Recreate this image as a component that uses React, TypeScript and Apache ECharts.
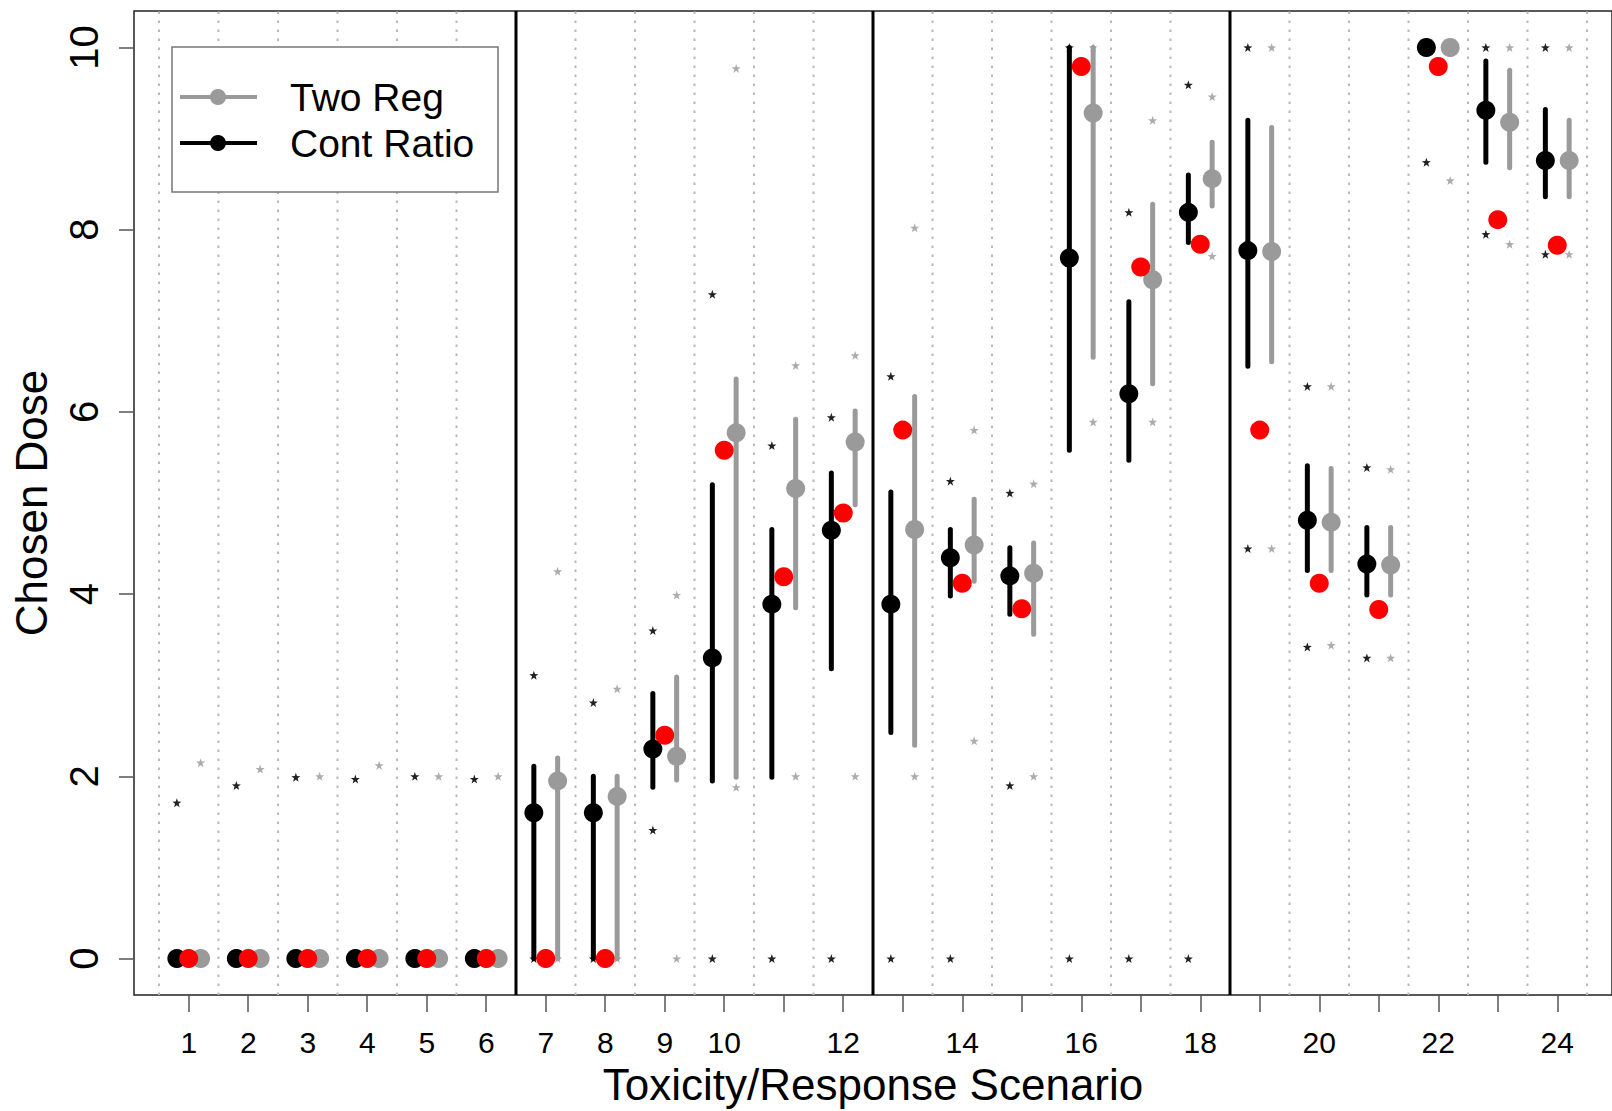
import React, { useEffect, useRef } from "react";
import * as echarts from "echarts";

const scenarios = [1, 2, 3, 4, 5, 6, 7, 8, 9, 10, 11, 12, 13, 14, 15, 16, 17, 18, 19, 20, 21, 22, 23, 24];
const contRatioMean = [0, 0, 0, 0, 0, 0, 1.6, 1.6, 2.3, 3.3, 3.89, 4.7, 3.89, 4.4, 4.2, 7.69, 6.2, 8.19, 7.77, 4.81, 4.33, 10, 9.31, 8.76];
const contRatioLow = [null, null, null, null, null, null, 0, 0, 1.88, 1.95, 1.99, 3.18, 2.48, 3.98, 3.78, 5.58, 5.47, 7.86, 6.5, 4.26, 3.99, null, 8.74, 8.36];
const contRatioHigh = [null, null, null, null, null, null, 2.11, 2.0, 2.91, 5.2, 4.71, 5.33, 5.12, 4.71, 4.51, 10.0, 7.21, 8.6, 9.2, 5.41, 4.73, null, 9.85, 9.32];
const twoRegMean = [0, 0, 0, 0, 0, 0, 1.95, 1.78, 2.22, 5.77, 5.16, 5.67, 4.71, 4.54, 4.23, 9.28, 7.45, 8.56, 7.76, 4.79, 4.32, 10, 9.18, 8.76];
const twoRegLow = [null, null, null, null, null, null, 0, 0, 1.96, 1.99, 3.85, 4.98, 2.34, 4.14, 3.56, 6.6, 6.31, 8.26, 6.55, 4.26, 3.99, null, 8.68, 8.36];
const twoRegHigh = [null, null, null, null, null, null, 2.2, 2.0, 3.09, 6.36, 5.92, 6.01, 6.17, 5.04, 4.56, 10.0, 8.28, 8.96, 9.12, 5.38, 4.73, null, 9.75, 9.2];
const trueDose = [0, 0, 0, 0, 0, 0, 0, 0, 2.45, 5.58, 4.19, 4.89, 5.8, 4.12, 3.84, 9.79, 7.59, 7.84, 5.8, 4.12, 3.83, 9.79, 8.11, 7.83];
const contRatioStarHigh = [1.71, 1.9, 1.99, 1.97, 2.0, 1.97, 3.11, 2.81, 3.6, 7.29, 5.63, 5.94, 6.39, 5.24, 5.11, 10, 8.19, 9.59, 10, 6.28, 5.39, 10, 10, 10];
const contRatioStarLow = [0, 0, 0, 0, 0, 0, 0, 0, 1.41, 0, 0, 0, 0, 0, 1.9, 0, 0, 0, 4.5, 3.42, 3.3, 8.74, 7.95, 7.73];
const twoRegStarHigh = [2.15, 2.08, 2.0, 2.12, 2.0, 2.0, 4.25, 2.96, 3.99, 9.77, 6.51, 6.62, 8.02, 5.8, 5.21, 10, 9.2, 9.46, 10, 6.28, 5.37, 10, 10, 10];
const twoRegStarLow = [0, 0, 0, 0, 0, 0, 0, 0, 0, 1.88, 2.0, 2.0, 2.0, 2.39, 2.0, 5.89, 5.89, 7.71, 4.5, 3.44, 3.3, 8.54, 7.84, 7.73];
const xTickLabels = [1, 2, 3, 4, 5, 6, 7, 8, 9, 10, 12, 14, 16, 18, 20, 22, 24];
const yTickLabels = [0, 2, 4, 6, 8, 10];
const groupBreaks = [6.5, 12.5, 18.5];
const legendNames = ["Two Reg", "Cont Ratio"];

const X_MIN = 0.08;
const X_MAX = 24.92;
const Y_MIN = -0.4;
const Y_MAX = 10.4;
const OFFSET = 0.2;
const FONT = "'Liberation Sans', Arial, Helvetica, sans-serif";
const GREY = "#9a9a9a";
const STAR = "path://M0,-10 L2.35,-3.24 L9.51,-3.09 L3.8,1.24 L5.88,8.09 L0,4 L-5.88,8.09 L-3.8,1.24 L-9.51,-3.09 L-2.35,-3.24 Z";

function vline(color: string, width: number, dash?: number[]) {
  return (params: any, api: any) => {
    const x = api.value(0);
    const p1 = api.coord([x, Y_MIN]);
    const p2 = api.coord([x, Y_MAX]);
    return {
      type: "line",
      shape: { x1: p1[0], y1: p1[1], x2: p2[0], y2: p2[1] },
      style: { stroke: color, lineWidth: width, lineDash: dash || null },
    };
  };
}

function barRender(color: string) {
  return (params: any, api: any) => {
    const x = api.value(0);
    const p1 = api.coord([x, api.value(1)]);
    const p2 = api.coord([x, api.value(2)]);
    return {
      type: "line",
      shape: { x1: p1[0], y1: p1[1], x2: p2[0], y2: p2[1] },
      style: { stroke: color, lineWidth: 5, lineCap: "round" },
    };
  };
}

export default function App() {
  const ref = useRef<HTMLDivElement>(null);
  useEffect(() => {
    if (!ref.current) return;
    const chart = echarts.init(ref.current, null, { renderer: "svg" });

    const gridPositions = scenarios.map((s) => [s - 0.5, 0]).concat([[scenarios[scenarios.length - 1] + 0.5, 0]]);
    const breaks = groupBreaks.map((b) => [b, 0]);
    const contBars: any[] = [];
    const twoBars: any[] = [];
    scenarios.forEach((s, i) => {
      if (contRatioLow[i] != null && contRatioHigh[i] != null) contBars.push([s - OFFSET, contRatioLow[i], contRatioHigh[i]]);
      if (twoRegLow[i] != null && twoRegHigh[i] != null) twoBars.push([s + OFFSET, twoRegLow[i], twoRegHigh[i]]);
    });

    const option: any = {
      animation: false,
      backgroundColor: "#ffffff",
      textStyle: { fontFamily: FONT },
      grid: {
        left: 134,
        right: -3,
        top: 11,
        bottom: 115,
        show: true,
        borderColor: "#222",
        borderWidth: 1.5,
        backgroundColor: "#fff",
      },
      xAxis: {
        type: "value",
        min: X_MIN,
        max: X_MAX,
        name: "Toxicity/Response Scenario",
        nameLocation: "middle",
        nameGap: 67,
        nameTextStyle: { fontSize: 44, color: "#000", fontFamily: FONT },
        axisLine: { show: false, onZero: false },
        splitLine: { show: false },
        axisTick: {
          show: true,
          length: 17,
          customValues: scenarios,
          lineStyle: { color: "#555", width: 1.5 },
        },
        axisLabel: {
          customValues: xTickLabels,
          fontSize: 30,
          color: "#000",
          margin: 32,
          fontFamily: FONT,
        },
      },
      yAxis: {
        type: "value",
        min: Y_MIN,
        max: Y_MAX,
        name: "Chosen Dose",
        nameLocation: "middle",
        nameGap: 81,
        nameTextStyle: { fontSize: 44, color: "#000", fontFamily: FONT },
        axisLine: { show: false, onZero: false },
        splitLine: { show: false },
        axisTick: {
          show: true,
          length: 15,
          customValues: yTickLabels,
          lineStyle: { color: "#555", width: 1.5 },
        },
        axisLabel: {
          customValues: yTickLabels,
          rotate: 90,
          fontSize: 40,
          color: "#000",
          margin: 30,
          fontFamily: FONT,
        },
      },
      series: [
        {
          type: "custom",
          name: "grid",
          data: gridPositions,
          renderItem: vline("#b8b8b8", 2, [2.5, 6.5]),
          encode: { x: 0, y: 1 },
          z: 1,
          silent: true,
        },
        {
          type: "custom",
          name: "breaks",
          data: breaks,
          renderItem: vline("#000", 3),
          encode: { x: 0, y: 1 },
          z: 2,
          silent: true,
        },
        {
          type: "scatter",
          name: "contStars",
          data: scenarios.flatMap((s, i) => [[s - OFFSET, contRatioStarHigh[i]], [s - OFFSET, contRatioStarLow[i]]]),
          symbol: STAR,
          symbolSize: 9,
          itemStyle: { color: "#222", opacity: 1 },
          z: 3,
        },
        {
          type: "scatter",
          name: "twoStars",
          data: scenarios.flatMap((s, i) => [[s + OFFSET, twoRegStarHigh[i]], [s + OFFSET, twoRegStarLow[i]]]),
          symbol: STAR,
          symbolSize: 9,
          itemStyle: { color: "#acacac", opacity: 1 },
          z: 3,
        },
        {
          type: "custom",
          name: "contBars",
          data: contBars,
          renderItem: barRender("#000"),
          encode: { x: 0, y: [1, 2] },
          z: 4,
        },
        {
          type: "scatter",
          name: legendNames[1],
          data: scenarios.map((s, i) => [s - OFFSET, contRatioMean[i]]),
          symbol: "circle",
          symbolSize: 19,
          itemStyle: { color: "#000", opacity: 1 },
          z: 5,
        },
        {
          type: "custom",
          name: "twoBars",
          data: twoBars,
          renderItem: barRender(GREY),
          encode: { x: 0, y: [1, 2] },
          z: 6,
        },
        {
          type: "scatter",
          name: legendNames[0],
          data: scenarios.map((s, i) => [s + OFFSET, twoRegMean[i]]),
          symbol: "circle",
          symbolSize: 19,
          itemStyle: { color: GREY, opacity: 1 },
          z: 7,
        },
        {
          type: "scatter",
          name: "truth",
          data: scenarios.map((s, i) => [s, trueDose[i]]),
          symbol: "circle",
          symbolSize: 19,
          itemStyle: { color: "#ff0000", opacity: 1 },
          z: 8,
        },
      ],
      graphic: [
        {
          type: "rect",
          z: 100,
          shape: { x: 172, y: 47, width: 326, height: 145 },
          style: { fill: "#fff", stroke: "#777", lineWidth: 1.5 },
        },
        {
          type: "line",
          z: 101,
          shape: { x1: 180, y1: 97, x2: 257, y2: 97 },
          style: { stroke: GREY, lineWidth: 4 },
        },
        {
          type: "circle",
          z: 102,
          shape: { cx: 218, cy: 97, r: 8 },
          style: { fill: GREY },
        },
        {
          type: "line",
          z: 101,
          shape: { x1: 180, y1: 143, x2: 257, y2: 143 },
          style: { stroke: "#000", lineWidth: 4 },
        },
        {
          type: "circle",
          z: 102,
          shape: { cx: 218, cy: 143, r: 8 },
          style: { fill: "#000" },
        },
        {
          type: "text",
          z: 102,
          x: 290,
          y: 97,
          style: {
            text: legendNames[0],
            fontSize: 39,
            fontFamily: FONT,
            fill: "#000",
            verticalAlign: "middle",
          },
        },
        {
          type: "text",
          z: 102,
          x: 290,
          y: 143,
          style: {
            text: legendNames[1],
            fontSize: 39,
            fontFamily: FONT,
            fill: "#000",
            verticalAlign: "middle",
          },
        },
      ],
    };
    chart.setOption(option);
    return () => chart.dispose();
  }, []);

  return (
    <div
      ref={ref}
      style={{ position: "absolute", left: 0, top: 0, width: 1612, height: 1111, background: "#fff" }}
    />
  );
}
